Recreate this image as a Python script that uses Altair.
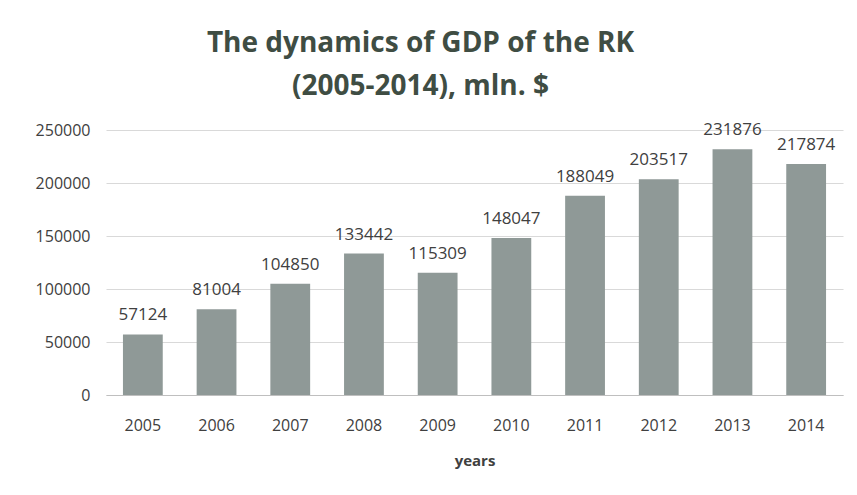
import altair as alt
import pandas as pd

years = ["2005", "2006", "2007", "2008", "2009", "2010", "2011", "2012", "2013", "2014"]
gdp = [57124, 81004, 104850, 133442, 115309, 148047, 188049, 203517, 231876, 217874]

df = pd.DataFrame({"year": years, "gdp": gdp})

base = alt.Chart(df).encode(
    x=alt.X("year:O", title="years", sort=years,
            scale=alt.Scale(paddingInner=0.46, paddingOuter=0.23),
            axis=alt.Axis(labelAngle=0, labelFontSize=16, labelColor="#404040",
                          labelFont="Open Sans", labelPadding=22, ticks=False,
                          domainColor="#bfbfbf", titleFont="Open Sans", titleFontSize=15,
                          titleFontWeight="bold", titleColor="#404040", titlePadding=20)),
    y=alt.Y("gdp:Q", title=None,
            scale=alt.Scale(domain=[0, 250000]),
            axis=alt.Axis(values=[0, 50000, 100000, 150000, 200000, 250000], format="d",
                          labelFontSize=16, labelColor="#404040", labelFont="Open Sans",
                          labelPadding=16, ticks=False, domain=False,
                          gridColor="#d9d9d9")),
)

bars = base.mark_bar(color="#8f9997")
labels = base.mark_text(dy=-19, fontSize=17, font="Open Sans", color="#404040").encode(
    text=alt.Text("gdp:Q", format="d"))

chart = (bars + labels).properties(
    width=737, height=265,
    title=alt.TitleParams(["The dynamics of GDP of the RK", "(2005-2014), mln. $"],
                          font="Open Sans", fontSize=28, fontWeight="bold",
                          color="#3f4d43", lineHeight=43, anchor="middle", dx=-54, offset=20),
    padding={"left": 98, "top": 122, "right": 6, "bottom": 80},
    autosize=alt.AutoSizeParams(type="none"),
    background="#ffffff",
).configure_view(stroke=None)

chart.save("out.html", embed_options={"renderer": "svg", "actions": False})
